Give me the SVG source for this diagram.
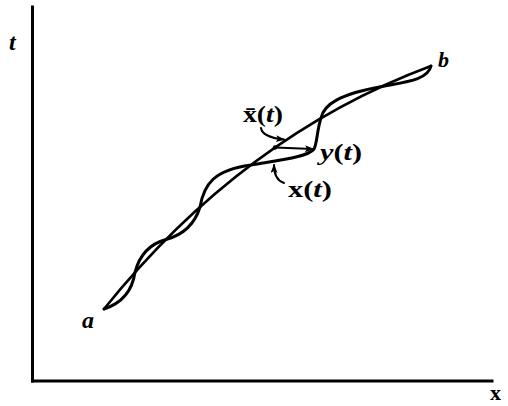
<svg xmlns="http://www.w3.org/2000/svg" width="508" height="406" viewBox="0 0 508 406">
  <defs>
    <style>
      .axis { stroke: #000; stroke-width: 3; fill: none; stroke-linecap: square; }
      .path { stroke: #000; stroke-width: 3; fill: none; stroke-linecap: round; stroke-linejoin: round; }
      .line { stroke: #000; stroke-width: 2.6; fill: none; stroke-linecap: round; }
      .ptr { stroke: #000; stroke-width: 2; fill: none; stroke-linecap: round; }
      .lbl { font-family: "Liberation Serif", "Times New Roman", serif; font-weight: bold; fill: #000; }
      .it { font-style: italic; }
    </style>
    <marker id="ah" markerUnits="userSpaceOnUse" markerWidth="9" markerHeight="7" refX="8" refY="3.5" orient="auto">
      <path d="M0,0 L9,3.5 L0,7 L2,3.5 z" fill="#000"/>
    </marker>
  </defs>
  <rect x="0" y="0" width="508" height="406" fill="#fff"/>

  <g id="axes">
    <line class="axis" x1="32.5" y1="7" x2="32.5" y2="381"/>
    <line class="axis" x1="32.5" y1="381" x2="492" y2="381"/>
    <text class="lbl it" x="9" y="50" font-size="24">t</text>
    <text class="lbl" x="490" y="400" font-size="22">x</text>
  </g>

  <g id="point-a">
    <text class="lbl it" x="82" y="328" font-size="24">a</text>
  </g>
  <g id="point-b">
    <text class="lbl it" x="438" y="67" font-size="22">b</text>
  </g>

  <g id="classical-path">
    <path class="line" d="M104,309 Q243,136 431,66"/>
    <text class="lbl" x="243" y="122" font-size="23" textLength="40" lengthAdjust="spacingAndGlyphs">x̄(<tspan class="it">t</tspan>)</text>
  </g>

  <g id="varied-path">
    <path class="path" d="M104,309
      C122,303.2 132.3,290.9 135,272.3
      C139.4,255.3 149.8,243.9 166,239.5
      C183.2,234.8 194.6,224.8 200,207
      C204,184 214,170 251,165
      C280,160 308,157 314,149
      C317,144 317,130 321,118
      C324,104 340,94 382,86.5
      C405,82 428,80 431,66"/>
    <text class="lbl" x="288" y="197" font-size="23" textLength="44" lengthAdjust="spacingAndGlyphs">x(<tspan class="it">t</tspan>)</text>
  </g>

  <g id="deviation">
    <text class="lbl" x="320" y="160" font-size="23" textLength="42" lengthAdjust="spacingAndGlyphs"><tspan class="it">y</tspan>(<tspan class="it">t</tspan>)</text>
  </g>

  <g id="connectors">
    <circle cx="275" cy="147.5" r="2.2" fill="#000"/>
    <path class="ptr" d="M275,147.5 L313,149" marker-end="url(#ah)"/>
    <path class="ptr" d="M261,128 C262,135 270,138 284,139.5" marker-end="url(#ah)"/>
    <path class="ptr" d="M284,183 C278,181 274,176 274,165" marker-end="url(#ah)"/>
  </g>
</svg>
